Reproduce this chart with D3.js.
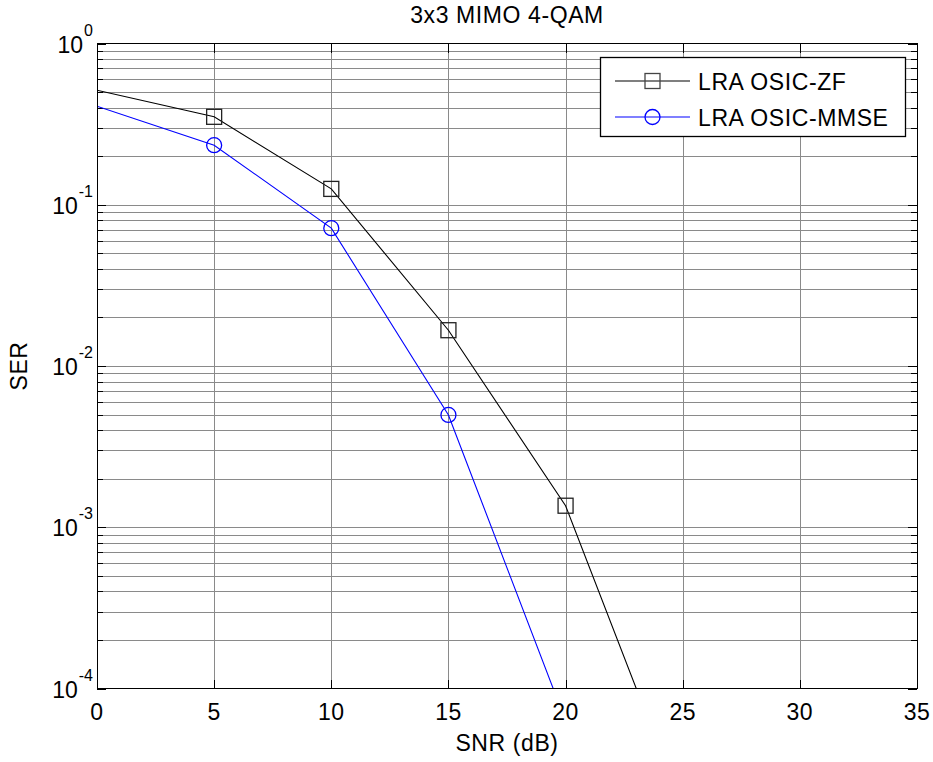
<!DOCTYPE html>
<html>
<head>
<meta charset="utf-8">
<script src="https://cdn.jsdelivr.net/npm/d3@7"></script>
<style>
  html, body { margin: 0; padding: 0; background: #fff; }
  svg text { font-family: "Liberation Sans", Arial, sans-serif; fill: #000; }
</style>
</head>
<body>
<svg id="chart" width="933" height="762"></svg>
<script>
// ---- data ----
const snr = [0, 5, 10, 15, 20, 25];
const serZF = [0.513, 0.351, 0.1254, 0.01667, 0.00136, 1.8e-5];
const serMMSE = [0.408, 0.234, 0.0716, 0.00497, 6.3e-5];
const seriesNames = ["LRA OSIC-ZF", "LRA OSIC-MMSE"];
const xTicks = [0, 5, 10, 15, 20, 25, 30, 35];
const yExponents = [0, -1, -2, -3, -4];
const titleText = "3x3 MIMO 4-QAM";
const xLabel = "SNR (dB)";
const yLabel = "SER";

// ---- layout ----
const L = 97, R = 917, T = 43.5, B = 688.5;
const FS = 23;
const svg = d3.select("#chart");
const x = d3.scaleLinear().domain([0, 35]).range([L, R]);
const y = d3.scaleLog().domain([1e-4, 1]).range([B, T]);

svg.append("rect").attr("width", 933).attr("height", 762).attr("fill", "#fff");

svg.append("defs").append("clipPath").attr("id", "clip")
  .append("rect").attr("x", L).attr("y", T).attr("width", R - L).attr("height", B - T);

// minor values
const minors = [];
for (let e = -4; e < 0; e++) for (let m = 2; m <= 9; m++) minors.push(m * Math.pow(10, e));
const majors = yExponents.map(e => Math.pow(10, e));

// grid
const grid = svg.append("g").attr("stroke", "#8a8a8a").attr("stroke-width", 1).attr("shape-rendering", "crispEdges");
grid.selectAll(".vg").data(xTicks.filter(t => t > 0 && t < 35)).enter().append("line")
  .attr("x1", d => Math.round(x(d)) + 0.5).attr("x2", d => Math.round(x(d)) + 0.5)
  .attr("y1", T).attr("y2", B);
grid.selectAll(".hg").data(minors.concat(majors.filter(v => v > 1e-4 && v < 1))).enter().append("line")
  .attr("x1", L).attr("x2", R)
  .attr("y1", d => Math.round(y(d)) + 0.5).attr("y2", d => Math.round(y(d)) + 0.5);

// ticks (inside, all four sides)
const tk = svg.append("g").attr("stroke", "#000").attr("stroke-width", 1.3).attr("shape-rendering", "crispEdges");
const majLen = 9, minLen = 6;
xTicks.forEach(t => {
  const px = Math.round(x(t)) + 0.5;
  tk.append("line").attr("x1", px).attr("x2", px).attr("y1", B).attr("y2", B - majLen);
  tk.append("line").attr("x1", px).attr("x2", px).attr("y1", T).attr("y2", T + majLen);
});
majors.forEach(v => {
  const py = Math.round(y(v)) + 0.5;
  tk.append("line").attr("x1", L).attr("x2", L + majLen).attr("y1", py).attr("y2", py);
  tk.append("line").attr("x1", R).attr("x2", R - majLen).attr("y1", py).attr("y2", py);
});
minors.forEach(v => {
  const py = Math.round(y(v)) + 0.5;
  tk.append("line").attr("x1", L).attr("x2", L + minLen).attr("y1", py).attr("y2", py);
  tk.append("line").attr("x1", R).attr("x2", R - minLen).attr("y1", py).attr("y2", py);
});

// series
const line = d3.line().x(d => x(d[0])).y(d => y(d[1]));
const plot = svg.append("g").attr("clip-path", "url(#clip)");
const zfData = snr.slice(0, serZF.length).map((s, i) => [s, serZF[i]]);
const mmData = snr.slice(0, serMMSE.length).map((s, i) => [s, serMMSE[i]]);

plot.append("path").datum(zfData).attr("d", line).attr("fill", "none").attr("stroke", "#000").attr("stroke-width", 1.1);
plot.append("path").datum(mmData).attr("d", line).attr("fill", "none").attr("stroke", "#0000ff").attr("stroke-width", 1.1);

// markers (the reference shows none at the 0 dB edge)
const ms = 15;
plot.selectAll(".sq").data(zfData.filter(d => d[0] > 0)).enter().append("rect")
  .attr("x", d => x(d[0]) - ms / 2).attr("y", d => y(d[1]) - ms / 2)
  .attr("width", ms).attr("height", ms)
  .attr("fill", "none").attr("stroke", "#222").attr("stroke-width", 1.3);
plot.selectAll(".ci").data(mmData.filter(d => d[0] > 0)).enter().append("circle")
  .attr("cx", d => x(d[0])).attr("cy", d => y(d[1])).attr("r", ms / 2)
  .attr("fill", "none").attr("stroke", "#0000ff").attr("stroke-width", 1.3);

// axes box
svg.append("rect").attr("x", L + 0.5).attr("y", T).attr("width", R - L).attr("height", B - T)
  .attr("fill", "none").attr("stroke", "#000").attr("stroke-width", 1.3).attr("shape-rendering", "crispEdges");

// x tick labels
svg.selectAll(".xl").data(xTicks).enter().append("text")
  .attr("x", d => x(d)).attr("y", B + 31).attr("text-anchor", "middle")
  .attr("font-size", FS).attr("letter-spacing", "0.5px").text(d => d);

// y tick labels
yExponents.forEach(e => {
  const t = svg.append("text").attr("x", 93).attr("y", y(Math.pow(10, e)) + 9)
    .attr("text-anchor", "end").attr("font-size", FS);
  t.append("tspan").text("10");
  t.append("tspan").attr("font-size", 16).attr("dy", -17).attr("dx", 1).text(e);
});

// title & labels
svg.append("text").attr("x", (L + R) / 2).attr("y", 23).attr("text-anchor", "middle")
  .attr("font-size", FS).attr("letter-spacing", "0.6px").text(titleText);
svg.append("text").attr("x", (L + R) / 2).attr("y", 751).attr("text-anchor", "middle")
  .attr("font-size", FS).attr("letter-spacing", "0.6px").text(xLabel);
svg.append("text").attr("transform", "translate(27," + ((T + B) / 2) + ") rotate(-90)")
  .attr("text-anchor", "middle").attr("font-size", FS).attr("letter-spacing", "0.6px").text(yLabel);

// legend
const lg = svg.append("g");
lg.append("rect").attr("x", 600.5).attr("y", 57.5).attr("width", 305).attr("height", 79)
  .attr("fill", "#fff").attr("stroke", "#000").attr("stroke-width", 1.3);
const legendRows = [
  { name: seriesNames[0], color: "#000", marker: "square", y: 81 },
  { name: seriesNames[1], color: "#0000ff", marker: "circle", y: 117 }
];
legendRows.forEach(r => {
  lg.append("line").attr("x1", 615).attr("x2", 690).attr("y1", r.y).attr("y2", r.y)
    .attr("stroke", r.color).attr("stroke-width", 1.1);
  if (r.marker === "square") {
    lg.append("rect").attr("x", 652.5 - ms / 2).attr("y", r.y - ms / 2).attr("width", ms).attr("height", ms)
      .attr("fill", "none").attr("stroke", "#444").attr("stroke-width", 1.3);
  } else {
    lg.append("circle").attr("cx", 652.5).attr("cy", r.y).attr("r", ms / 2)
      .attr("fill", "none").attr("stroke", r.color).attr("stroke-width", 1.3);
  }
  lg.append("text").attr("x", 698).attr("y", r.y + 8.5).attr("font-size", FS)
    .attr("letter-spacing", "0.6px").text(r.name);
});
</script>
</body>
</html>
